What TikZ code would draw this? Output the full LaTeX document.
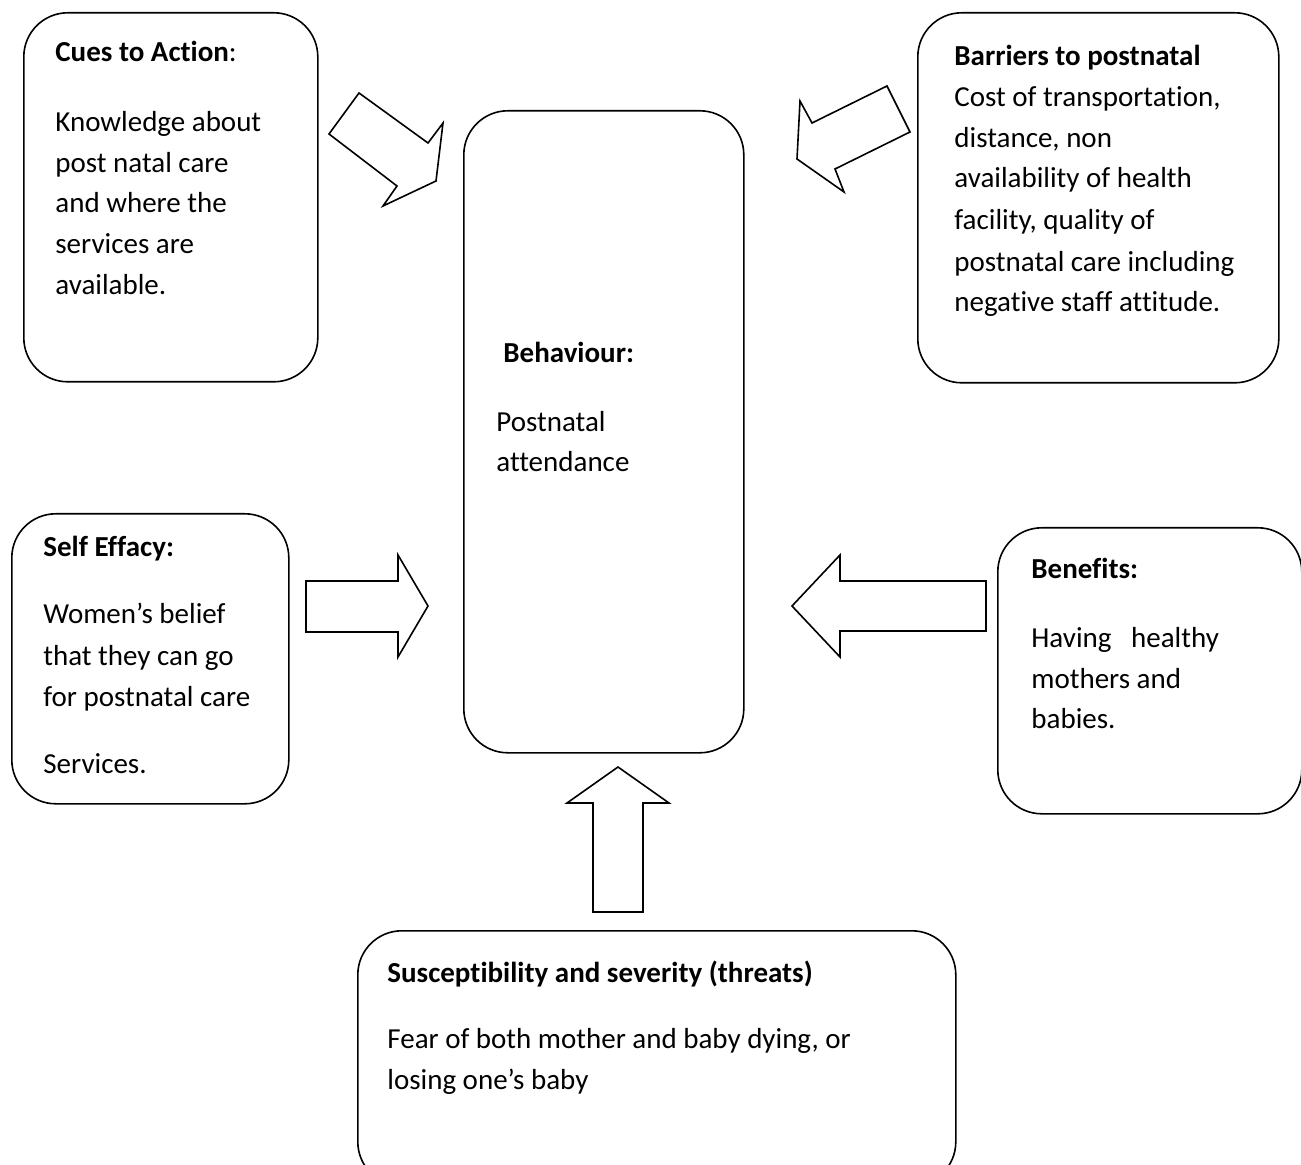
\documentclass[tikz,border=0pt]{standalone}
\usepackage{fontspec}
\setmainfont{Carlito}[Ligatures=CommonOff]
\usetikzlibrary{arrows.meta}
\tikzset{
  caja/.style     = {draw, black, line width=0.8pt, rounded corners=22pt, anchor=north west, inner sep=0pt},
  bloqueflecha/.style = {draw, black, line width=0.8pt, fill=white},
  txt/.style      = {anchor=base west, inner sep=0pt, font=\fontsize{14.5}{17}\selectfont},
  hdr/.style      = {txt, font=\fontsize{14.5}{17}\selectfont\bfseries}
}

\begin{document}
\begin{tikzpicture}[x=0.5pt, y=-0.5pt]
  \useasboundingbox (0,0) rectangle (1301,1165);

  % cajas
  \node[caja, minimum width=147pt, minimum height=184.5pt] (cues) at (23,12) {};
  \node[caja, minimum width=180.5pt, minimum height=185pt] (barriers) at (917,12) {};
  \node[caja, minimum width=140pt, minimum height=321pt] (behav) at (463,110) {};
  \node[caja, minimum width=138.5pt, minimum height=145pt] (self) at (11,513) {};
  \node[caja, minimum width=152pt, minimum height=143pt] (benef) at (997,527) {};
  \node[caja, minimum width=299pt, minimum height=127.5pt] (threat) at (357,930) {};

  % flechas
  \draw[bloqueflecha] (359,93) -- (428,143) -- (443,123) -- (436,181) -- (383,206) -- (397,186) -- (329,134) -- cycle;
  \draw[bloqueflecha] (887,86) -- (910,132) -- (835,169) -- (844,192) -- (797,159) -- (800,101) -- (812,123) -- cycle;
  \draw[bloqueflecha] (306,581) -- (398,581) -- (398,555) -- (428,606) -- (398,657) -- (398,632) -- (306,632) -- cycle;
  \draw[bloqueflecha] (986,581) -- (840,581) -- (840,555) -- (792,606) -- (840,657) -- (840,631) -- (986,631) -- cycle;
  \draw[bloqueflecha] (593,912) -- (593,803) -- (567,803) -- (618,767) -- (669,803) -- (643,803) -- (643,912) -- cycle;

  % textos
  \node[hdr] (cuesh) at (55,62) {Cues to Action\textmd{:}};
  \foreach \y/\t [count=\i] in {132/Knowledge about, 173/post natal care, 213/and where the,
                                254/services are, 295/available.}{
    \node[txt] (cues\i) at (55,\y) {\t};
  }

  \node[hdr] (barrh) at (954,66) {Barriers to postnatal};
  \foreach \y/\t [count=\i] in {107/{Cost of transportation,}, 148/{distance, non},
                                188/availability of health, 230/{facility, quality of},
                                272/postnatal care including, 312/negative staff attitude.}{
    \node[txt] (barr\i) at (954,\y) {\t};
  }

  \node[hdr] (behavh) at (503,363) {Behaviour:};
  \node[txt] (behav1) at (496,432) {Postnatal};
  \node[txt] (behav2) at (496,472) {attendance};

  \node[hdr] (selfh) at (43,557) {Self Effacy:};
  \foreach \y/\t [count=\i] in {624/Women’s belief, 665/that they can go,
                                706/for postnatal care, 773/Services.}{
    \node[txt] (self\i) at (43,\y) {\t};
  }

  \node[hdr] (benefh) at (1031,579) {Benefits:};
  \node[txt] (benef1) at (1031,647) {Having\ \ \ healthy};
  \node[txt] (benef2) at (1031,688) {mothers and};
  \node[txt] (benef3) at (1031,728) {babies.};

  \node[hdr] (threath) at (387,982) {Susceptibility and severity (threats)};
  \node[txt] (threat1) at (387,1048) {Fear of both mother and baby dying, or};
  \node[txt] (threat2) at (387,1089) {losing one’s baby};
\end{tikzpicture}
\end{document}
